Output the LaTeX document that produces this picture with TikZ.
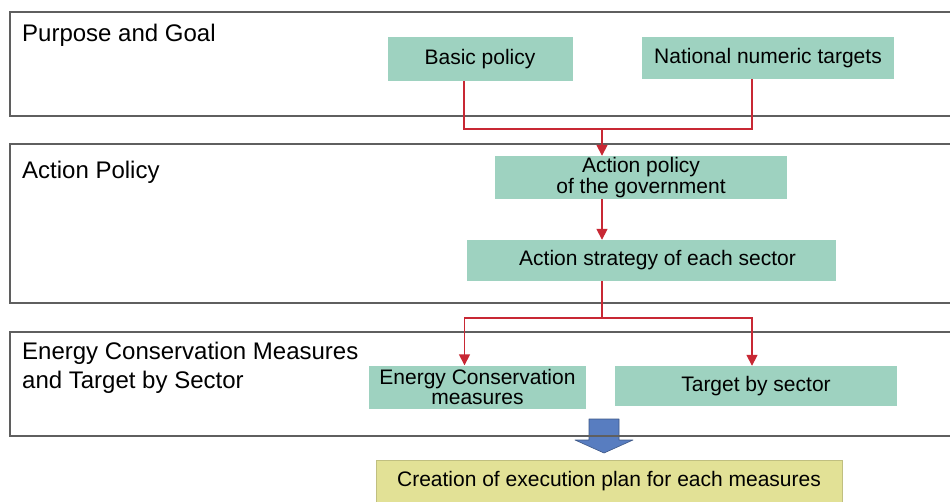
\documentclass[tikz,border=0pt]{standalone}
\usepackage{fontspec}
\setmainfont{Liberation Sans}
\usetikzlibrary{arrows.meta}
\definecolor{boxgreen}{RGB}{158,210,192}
\definecolor{boxyellow}{RGB}{226,225,150}
\definecolor{arrowred}{RGB}{200,40,52}
\definecolor{arrowblue}{RGB}{88,125,192}
\definecolor{framegray}{RGB}{95,95,95}
\begin{document}
\begin{tikzpicture}[x=1pt,y=-1pt,
  frame/.style={draw=framegray, line width=1.4pt},
  gbox/.style={fill=boxgreen, inner sep=0pt, font=\fontsize{21}{21}\selectfont, align=center},
  ybox/.style={fill=boxyellow, draw=boxyellow!85!black, line width=0.4pt, inner sep=0pt, font=\fontsize{21}{21}\selectfont, align=center},
  sect/.style={anchor=west, inner sep=0pt, font=\fontsize{24}{29}\selectfont, align=left},
  redline/.style={draw=arrowred, line width=1.6pt},
  redarrow/.style={draw=arrowred, line width=1.6pt, -{Triangle[width=11pt,length=11pt]}}]
\useasboundingbox (0,0) rectangle (950,501);
\fill[white] (0,0) rectangle (950,501);
% blue block arrow
\filldraw[fill=arrowblue, draw=arrowblue!70!black, line width=0.6pt, line join=round]
  (589,419) -- (619,419) -- (619,440) -- (633,440) -- (604,453) -- (575,440) -- (589,440) -- cycle;
% section frames
\draw[frame] (951,12) -- (10,12) -- (10,116) -- (951,116);
\draw[frame] (951,144) -- (10,144) -- (10,303) -- (951,303);
\draw[frame] (951,332) -- (10,332) -- (10,436) -- (951,436);
% section labels
\node[sect] (lab1) at (22,35) {Purpose and Goal};
\node[sect] (lab2) at (22,172) {Action Policy};
\node[sect] (lab3) at (22,368) {Energy Conservation Measures\\and Target by Sector};
% boxes
\node[gbox, minimum width=185, minimum height=44] (basic) at (480,59) {Basic policy};
\node[gbox, minimum width=252, minimum height=42] (national) at (768,58) {National numeric targets};
\node[gbox, minimum width=292, minimum height=43] (policy) at (641,177.5) {Action policy\\of the government};
\node[gbox, minimum width=369, minimum height=41] (strategy) at (651.5,260.5) {\hspace*{12pt}Action strategy of each sector};
\node[gbox, minimum width=217, minimum height=43, font=\fontsize{21}{20}\selectfont] (ecm) at (477.5,387) {Energy Conservation\\measures};
\node[gbox, minimum width=282, minimum height=40] (target) at (756,386) {Target by sector};
\node[ybox, minimum width=466, minimum height=42] (creation) at (609,481) {Creation of execution plan for each measures};
% junctions
\coordinate (j1) at (602,129);
\coordinate (j2) at (602,318);
% red connectors
\draw[redline] ([xshift=-16]basic.south) |- (j1) -| ([xshift=-16]national.south);
\draw[redarrow] (j1) -- (policy.north -| j1);
\draw[redarrow] (policy.south -| j1) -- (strategy.north -| j1);
\draw[redline] (strategy.south -| j2) -- (j2);
\draw[redarrow] (j2) -| ([xshift=-13]ecm.north);
\draw[redarrow] (j2) -| ([xshift=-4]target.north);
\end{tikzpicture}
\end{document}
